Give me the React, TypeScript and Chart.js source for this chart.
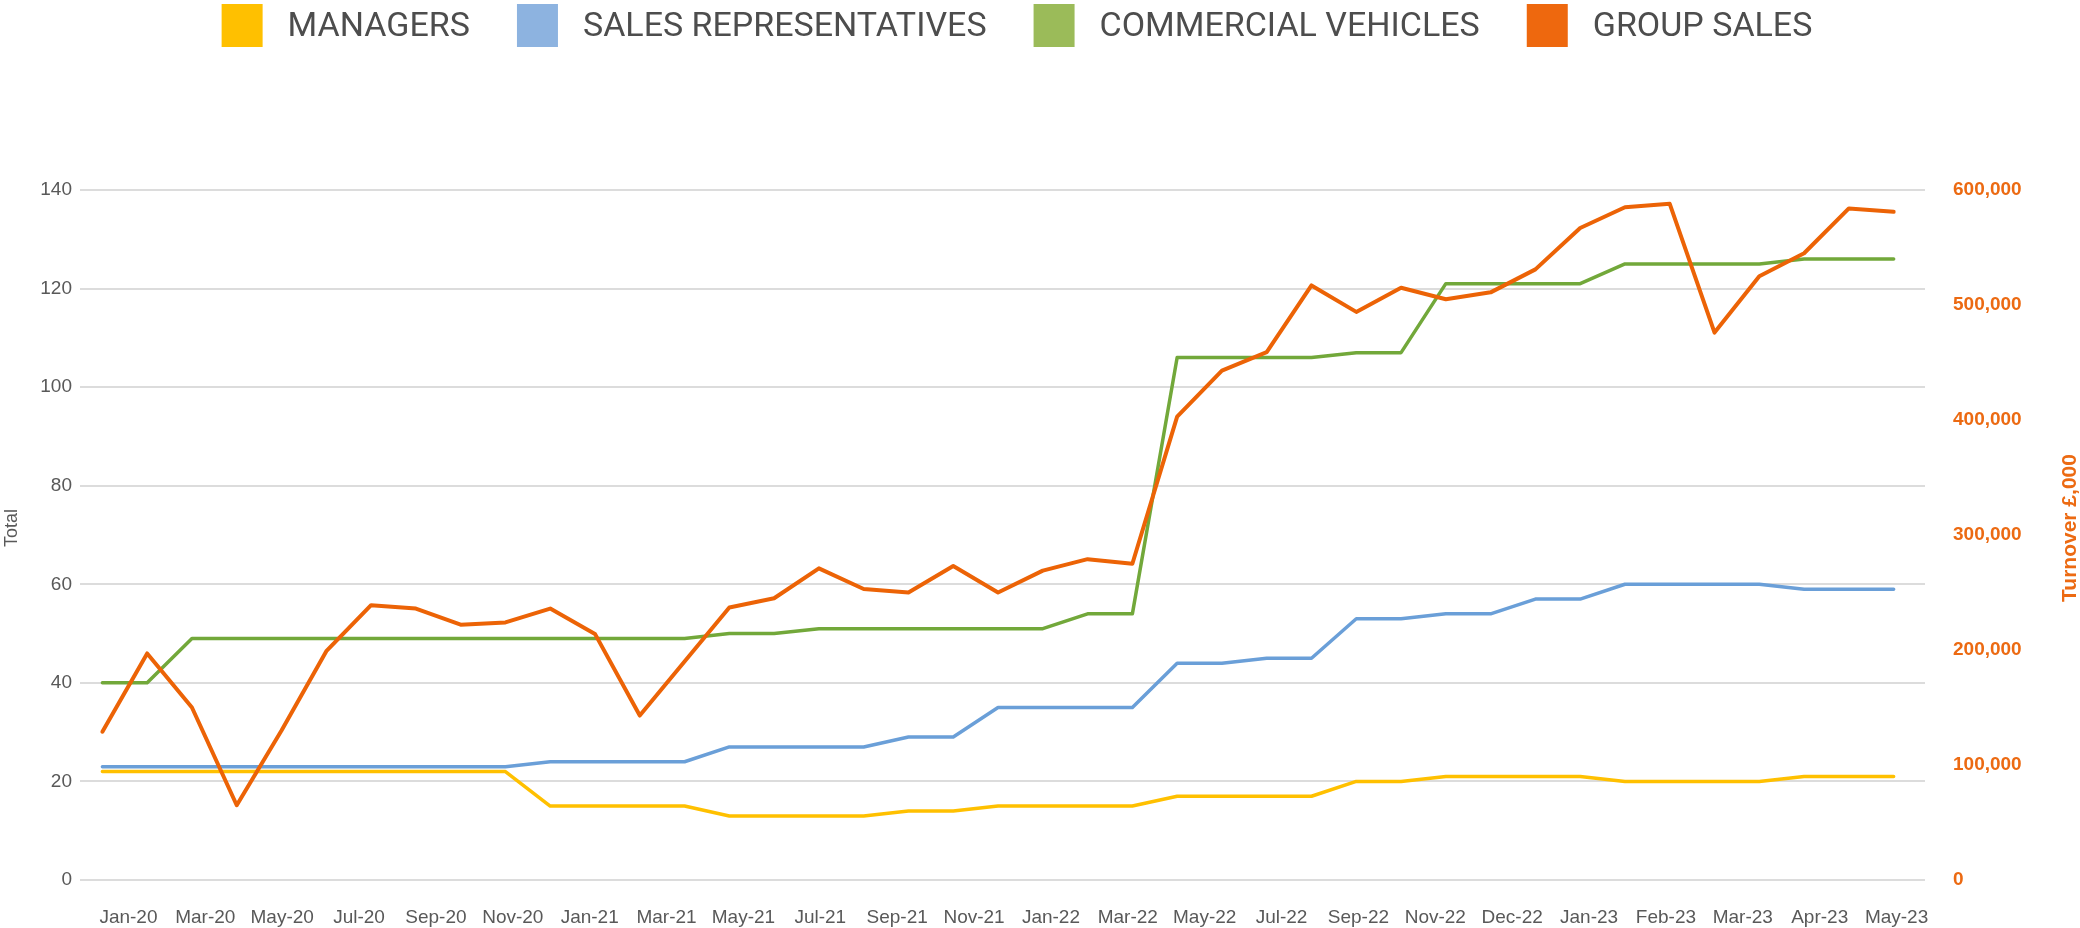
import { useEffect, useRef } from 'react';
import { Chart, registerables } from 'chart.js';

Chart.register(...registerables);

// ---- data ----
const months = [
  'Jan-20', 'Feb-20', 'Mar-20', 'Apr-20', 'May-20', 'Jun-20', 'Jul-20', 'Aug-20', 'Sep-20', 'Oct-20', 'Nov-20', 'Dec-20',
  'Jan-21', 'Feb-21', 'Mar-21', 'Apr-21', 'May-21', 'Jun-21', 'Jul-21', 'Aug-21', 'Sep-21', 'Oct-21', 'Nov-21', 'Dec-21',
  'Jan-22', 'Feb-22', 'Mar-22', 'Apr-22', 'May-22', 'Jun-22', 'Jul-22', 'Aug-22', 'Sep-22', 'Oct-22', 'Nov-22', 'Dec-22',
  'Jan-23', 'Feb-23', 'Mar-23', 'Apr-23', 'May-23',
];

const tickLabels = [
  'Jan-20', 'Mar-20', 'May-20', 'Jul-20', 'Sep-20', 'Nov-20', 'Jan-21', 'Mar-21', 'May-21', 'Jul-21', 'Sep-21', 'Nov-21',
  'Jan-22', 'Mar-22', 'May-22', 'Jul-22', 'Sep-22', 'Nov-22', 'Dec-22', 'Jan-23', 'Feb-23', 'Mar-23', 'Apr-23', 'May-23',
];

const managers = [
  22, 22, 22, 22, 22, 22, 22, 22, 22, 22, 15, 15, 15, 15, 13, 13, 13, 13, 14, 14,
  15, 15, 15, 15, 17, 17, 17, 17, 20, 20, 21, 21, 21, 21, 20, 20, 20, 20, 21, 21, 21,
];

const salesReps = [
  23, 23, 23, 23, 23, 23, 23, 23, 23, 23, 24, 24, 24, 24, 27, 27, 27, 27, 29, 29,
  35, 35, 35, 35, 44, 44, 45, 45, 53, 53, 54, 54, 57, 57, 60, 60, 60, 60, 59, 59, 59,
];

const commercialVehicles = [
  40, 40, 49, 49, 49, 49, 49, 49, 49, 49, 49, 49, 49, 49, 50, 50, 51, 51, 51, 51,
  51, 51, 54, 54, 106, 106, 106, 106, 107, 107, 121, 121, 121, 121, 125, 125, 125, 125, 126, 126, 126,
];

const groupSales = [
  129000, 197000, 150000, 65000, 130000, 199000, 239000, 236000, 222000, 224000, 236000, 214000,
  143000, 190000, 237000, 245000, 271000, 253000, 250000, 273000, 250000, 269000, 279000, 275000,
  403000, 443000, 459000, 517000, 494000, 515000, 505000, 511000, 531000, 567000, 585000, 588000,
  476000, 525000, 545000, 584000, 581000,
];

const seriesNames = ['MANAGERS', 'SALES REPRESENTATIVES', 'COMMERCIAL VEHICLES', 'GROUP SALES'];

// ---- styles ----
const LINE_COLORS = ['#FFC000', '#6A9FD8', '#72A83A', '#EC6306'];
const LEGEND_COLORS = ['#FFC000', '#8DB3E0', '#9BBB59', '#EE680E'];
const TEXT = '#595959';
const ORANGE_TEXT = '#EC6A12';
const GRID = '#DCDCDC';
const SANS = '"Liberation Sans", Arial, sans-serif';

const LEG = { center: 1017, top: 4, box: 41, boxH: 43, gap: 25, itemGap: 47, textY: 27 };

const overlayPlugin = {
  id: 'overlay',
  afterDraw(chart: any) {
    const { ctx } = chart;
    ctx.save();
    ctx.font = '34px Roboto';
    ctx.textBaseline = 'middle';
    ctx.textAlign = 'left';
    const items = chart.data.datasets.map((ds: any, i: number) => ({
      text: ds.label,
      color: LEGEND_COLORS[i],
      w: ctx.measureText(ds.label).width,
    }));
    const total =
      items.reduce((s: number, it: any) => s + LEG.box + LEG.gap + it.w, 0) + LEG.itemGap * (items.length - 1);
    let x = LEG.center - total / 2;
    for (const it of items) {
      ctx.fillStyle = it.color;
      ctx.fillRect(x, LEG.top, LEG.box, LEG.boxH);
      x += LEG.box + LEG.gap;
      ctx.fillStyle = '#4D4D4D';
      ctx.fillText(it.text, x, LEG.textY);
      x += it.w + LEG.itemGap;
    }
    ctx.restore();

    const area = chart.chartArea;
    const midY = (area.top + area.bottom) / 2 - 7;

    // left axis title
    ctx.save();
    ctx.translate(12, midY);
    ctx.rotate(-Math.PI / 2);
    ctx.font = `18px ${SANS}`;
    ctx.fillStyle = TEXT;
    ctx.textAlign = 'center';
    ctx.textBaseline = 'middle';
    ctx.fillText('Total', 0, 0);
    ctx.restore();

    // right axis title, reading bottom-to-top
    const y1 = chart.scales.y1;
    ctx.save();
    ctx.translate(y1.right - 10, midY);
    ctx.rotate(-Math.PI / 2);
    ctx.font = `bold 21px ${SANS}`;
    ctx.fillStyle = ORANGE_TEXT;
    ctx.textAlign = 'center';
    ctx.textBaseline = 'middle';
    ctx.fillText('Turnover £,000', 0, 0);
    ctx.restore();
  },
};

export default function App() {
  const ref = useRef<HTMLCanvasElement>(null);

  useEffect(() => {
    document.body.style.margin = '0';
    const lineDs = (i: number, data: number[], axis: string, width: number, order: number) => ({
      label: seriesNames[i],
      data: data.map((v, idx) => ({ x: idx, y: v })),
      yAxisID: axis,
      borderColor: LINE_COLORS[i],
      backgroundColor: LEGEND_COLORS[i],
      borderWidth: width,
      pointRadius: 0,
      pointHoverRadius: 0,
      tension: 0,
      fill: false,
      borderJoinStyle: 'round' as const,
      borderCapStyle: 'round' as const,
      order,
    });

    const chart = new Chart(ref.current as HTMLCanvasElement, {
      type: 'line',
      data: {
        labels: months,
        datasets: [
          lineDs(0, managers, 'y', 3.5, 4),
          lineDs(1, salesReps, 'y', 3.5, 3),
          lineDs(2, commercialVehicles, 'y', 3.5, 2),
          lineDs(3, groupSales, 'y1', 4, 1),
        ],
      },
      options: {
        responsive: false,
        animation: false,
        layout: { padding: { top: 190, left: 0, right: 0, bottom: 0 } },
        plugins: { legend: { display: false }, tooltip: { enabled: false } },
        scales: {
          x: { type: 'linear', display: false, min: -0.5, max: months.length - 0.3 },
          xl: {
            type: 'category',
            labels: tickLabels,
            position: 'bottom',
            offset: true,
            grid: { display: false },
            border: { display: false },
            ticks: {
              autoSkip: false,
              maxRotation: 0,
              minRotation: 0,
              color: TEXT,
              font: { family: SANS, size: 19 },
              padding: 18,
              labelOffset: 10,
            },
            afterFit: (s: any) => {
              s.height = 48;
            },
          },
          y: {
            position: 'left',
            min: 0,
            max: 140,
            ticks: { stepSize: 20, color: TEXT, font: { family: SANS, size: 19 }, padding: 8 },
            grid: { color: GRID, lineWidth: 2, drawTicks: false },
            border: { display: false },
            afterFit: (s: any) => {
              s.width = 80;
            },
          },
          y1: {
            position: 'right',
            min: 0,
            max: 600000,
            ticks: {
              stepSize: 100000,
              color: ORANGE_TEXT,
              font: { family: SANS, size: 19, weight: 'bold' },
              padding: 28,
            },
            grid: { drawOnChartArea: false, drawTicks: false },
            border: { display: false },
            afterFit: (s: any) => {
              s.width = 155;
            },
          },
        },
      } as any,
      plugins: [overlayPlugin],
    });
    return () => chart.destroy();
  }, []);

  return <canvas ref={ref} width={2080} height={928} style={{ display: 'block' }} />;
}
